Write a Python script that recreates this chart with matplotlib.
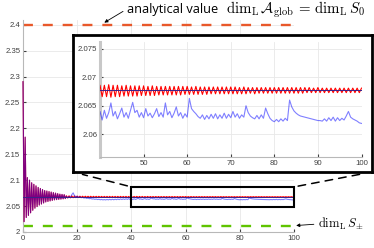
import numpy as np
import matplotlib
matplotlib.use("Agg")
import matplotlib.pyplot as plt
from matplotlib.patches import Rectangle, ConnectionPatch
from matplotlib.ticker import FuncFormatter

plt.rcParams['font.family'] = ['Liberation Sans', 'DejaVu Sans']
plt.rcParams['mathtext.fontset'] = 'cm'

# transient: red and blue runs coincide (t = 0 .. 15.6, step 0.4)
early = [2.290, 2.020, 2.183, 2.028, 2.105, 2.032, 2.100, 2.037, 2.095, 2.042,
         2.092, 2.046, 2.089, 2.049, 2.086, 2.052, 2.084, 2.054, 2.082, 2.056,
         2.080, 2.058, 2.079, 2.059, 2.078, 2.060, 2.077, 2.061, 2.076, 2.062,
         2.075, 2.0625, 2.074, 2.063, 2.073, 2.0635, 2.0725, 2.064, 2.072, 2.0645]

# red run, t = 16 .. 100, step 0.5
red_late = [2.0700, 2.0656, 2.0698, 2.0659, 2.0696, 2.0661, 2.0694, 2.0663, 2.0692, 2.0664,
            2.0691, 2.0665, 2.0690, 2.0665, 2.0690, 2.0666, 2.0689, 2.0666, 2.0689, 2.0666,
            2.0688, 2.0667, 2.0688, 2.0667, 2.0688, 2.0667, 2.0687, 2.0667, 2.0687, 2.0667,
            2.0687, 2.0666, 2.0687, 2.0666, 2.0687, 2.0666, 2.0687, 2.0666, 2.0687, 2.0666,
            2.0687, 2.0666, 2.0686, 2.0666, 2.0687, 2.0665, 2.0686, 2.0666, 2.0686, 2.0666,
            2.0686, 2.0666, 2.0687, 2.0665, 2.0686, 2.0666, 2.0686, 2.0666, 2.0685, 2.0667,
            2.0686, 2.0667, 2.0685, 2.0667, 2.0685, 2.0667, 2.0685, 2.0668, 2.0685, 2.0668,
            2.0684, 2.0668, 2.0685, 2.0668, 2.0684, 2.0669, 2.0684, 2.0669, 2.0684, 2.0669,
            2.0684, 2.0669, 2.0684, 2.0669, 2.0684, 2.0669, 2.0684, 2.0670, 2.0684, 2.0670,
            2.0683, 2.0670, 2.0684, 2.0670, 2.0683, 2.0670, 2.0683, 2.0670, 2.0683, 2.0671,
            2.0683, 2.0671, 2.0683, 2.0671, 2.0683, 2.0671, 2.0683, 2.0671, 2.0683, 2.0671,
            2.0683, 2.0671, 2.0682, 2.0671, 2.0683, 2.0671, 2.0682, 2.0672, 2.0682, 2.0671,
            2.0682, 2.0672, 2.0682, 2.0672, 2.0682, 2.0672, 2.0682, 2.0672, 2.0682, 2.0672,
            2.0682, 2.0672, 2.0682, 2.0672, 2.0682, 2.0672, 2.0682, 2.0672, 2.0682, 2.0672,
            2.0682, 2.0672, 2.0682, 2.0673, 2.0682, 2.0673, 2.0681, 2.0673, 2.0682, 2.0673,
            2.0681, 2.0673, 2.0681, 2.0673, 2.0681, 2.0673, 2.0681, 2.0673, 2.0681, 2.0673,
            2.0681, 2.0673, 2.0681, 2.0673, 2.0681, 2.0673, 2.0681, 2.0673, 2.0681]

# blue run, t = 16 .. 100, step 0.5
blue_late = [2.0690, 2.0660, 2.0685, 2.0665, 2.0720, 2.0755, 2.0700, 2.0680, 2.0690, 2.0668,
             2.0678, 2.0662, 2.0670, 2.0655, 2.0662, 2.0648, 2.0655, 2.0642, 2.0648, 2.0636,
             2.0640, 2.0630, 2.0636, 2.0626, 2.0632, 2.0622, 2.0628, 2.0620, 2.0626, 2.0619,
             2.0628, 2.0620, 2.0630, 2.0621, 2.0632, 2.0622, 2.0633, 2.0624, 2.0635, 2.0625,
             2.0638, 2.0626, 2.0640, 2.0627, 2.0642, 2.0628, 2.0645, 2.0626, 2.0640, 2.0625,
             2.0642, 2.0628, 2.0638, 2.0655, 2.0632, 2.0640, 2.0627, 2.0636, 2.0646, 2.0630,
             2.0638, 2.0628, 2.0642, 2.0656, 2.0638, 2.0642, 2.0630, 2.0638, 2.0629, 2.0645,
             2.0632, 2.0637, 2.0629, 2.0636, 2.0645, 2.0631, 2.0638, 2.0630, 2.0655, 2.0634,
             2.0640, 2.0629, 2.0637, 2.0648, 2.0632, 2.0638, 2.0628, 2.0636, 2.0630, 2.0663,
             2.0645, 2.0640, 2.0636, 2.0631, 2.0628, 2.0634, 2.0626, 2.0633, 2.0627, 2.0635,
             2.0628, 2.0636, 2.0627, 2.0634, 2.0628, 2.0637, 2.0628, 2.0635, 2.0629, 2.0640,
             2.0630, 2.0636, 2.0628, 2.0634, 2.0630, 2.0650, 2.0638, 2.0632, 2.0629, 2.0627,
             2.0633, 2.0627, 2.0634, 2.0628, 2.0646, 2.0636, 2.0628, 2.0624, 2.0622, 2.0626,
             2.0622, 2.0627, 2.0623, 2.0628, 2.0624, 2.0660, 2.0648, 2.0641, 2.0637, 2.0634,
             2.0632, 2.0631, 2.0630, 2.0629, 2.0628, 2.0627, 2.0626, 2.0625, 2.0624, 2.0624,
             2.0623, 2.0627, 2.0623, 2.0629, 2.0624, 2.0630, 2.0623, 2.0629, 2.0624, 2.0628,
             2.0625, 2.0632, 2.0640, 2.0630, 2.0627, 2.0625, 2.0623, 2.0620, 2.0619]

mean_level = 2.0677
dim_s0 = 2.4
dim_spm = 2.0125
zoom_x = [40, 100]
zoom_y = [2.048, 2.087]

t = np.concatenate([np.linspace(0, 15.6, len(early)), np.linspace(16, 100, len(red_late))])
red = np.array(early + red_late)
blue = np.array(early + blue_late)


def draw_runs(ax, clip=True):
    ax.plot(t, red, color="#ff0000", lw=0.8, zorder=3, clip_on=clip)
    ax.plot(t, blue, color="#0000ff", lw=0.8, alpha=0.5, zorder=3, clip_on=clip)
    ax.plot([0, 100], [mean_level, mean_level], color="#3a1f8a", lw=0.7, zorder=3, clip_on=clip)


def style(ax):
    ax.grid(True, color="#e8e8e8", lw=0.6)
    ax.set_axisbelow(True)
    ax.tick_params(direction="in", length=2, labelsize=5.6, colors="#404040", pad=2)
    ax.spines["top"].set_visible(False)
    ax.spines["right"].set_visible(False)
    for s in ["left", "bottom"]:
        ax.spines[s].set_color("#b8b8b8")
    ax.yaxis.set_major_formatter(FuncFormatter(lambda v, p: "%g" % round(v, 4)))


fig = plt.figure(figsize=(3.74, 2.48), dpi=100)
W, H = 374.0, 248.0

ax = fig.add_axes([23 / W, 16 / H, 271 / W, 212.5 / H])
style(ax)
draw_runs(ax, clip=False)
ax.plot([0, 100], [dim_s0, dim_s0], color="#e8582a", lw=1.7, dashes=(4.2, 4.2))
ax.plot([0, 100], [dim_spm, dim_spm], color="#5fc400", lw=1.7, dashes=(4.2, 4.2))
ax.set_xlim(0, 100)
ax.set_ylim(2, 2.41)
ax.set_xticks([0, 20, 40, 60, 80, 100])
ax.set_yticks(np.arange(2, 2.401, 0.05))

rect = Rectangle((zoom_x[0], zoom_y[0]), zoom_x[1] - zoom_x[0], zoom_y[1] - zoom_y[0],
                 fill=False, ec="black", lw=1.5, zorder=5, clip_on=False)
ax.add_patch(rect)

arrow = dict(arrowstyle="-|>", color="black", lw=0.6, mutation_scale=5, shrinkA=1, shrinkB=0)
ax.annotate("analytical value", xy=(30, dim_s0 + 0.004), xytext=(127, H - 9),
            textcoords="figure pixels", ha="left", va="center", fontsize=9.2,
            family=["Open Sans", "DejaVu Sans"],
            arrowprops=dict(arrow, relpos=(0, 0.5)))
fig.text(226 / W, 1 - 10 / H,
         "$\\mathrm{dim}_{\\mathrm{L}}\\,\\mathcal{A}_{\\mathrm{glob}} \\,=\\, \\mathrm{dim}_{\\mathrm{L}}\\,S_0$",
         ha="left", va="center", fontsize=10.7)
ax.annotate("$\\mathrm{dim}_{\\mathrm{L}}\\,S_{\\pm}$",
            xy=(100.8, dim_spm), xytext=(318, H - 224), textcoords="figure pixels",
            ha="left", va="center", fontsize=9,
            arrowprops=dict(arrow, relpos=(0, 0.5)), annotation_clip=False)

# frame around the zoomed view
frame = fig.add_axes([73 / W, 76 / H, 299 / W, 137 / H])
frame.set_xticks([])
frame.set_yticks([])
frame.set_facecolor("white")
for s in frame.spines.values():
    s.set_linewidth(2)
    s.set_color("black")

ins = fig.add_axes([100 / W, 91 / H, 261.5 / W, 115 / H])
style(ins)
ins.spines["left"].set_linewidth(2.2)
ins.spines["left"].set_color("#c8c8c8")
draw_runs(ins)
ins.set_xlim(40, 100)
ins.set_ylim(2.056, 2.0762)
ins.set_xticks([50, 60, 70, 80, 90, 100])
ins.set_yticks([2.06, 2.065, 2.07, 2.075])

# dashed connectors from the zoom box to the frame
for xa, xb in [(zoom_x[0], 0.0), (zoom_x[1], 1.0)]:
    con = ConnectionPatch(xyA=(xa, zoom_y[1]), coordsA=ax.transData,
                          xyB=(xb, 0.0), coordsB=frame.transAxes,
                          color="black", lw=1.1, linestyle=(0, (5, 4)),
                          shrinkA=3, shrinkB=7)
    fig.add_artist(con)

fig.savefig("out.png", dpi=100)
